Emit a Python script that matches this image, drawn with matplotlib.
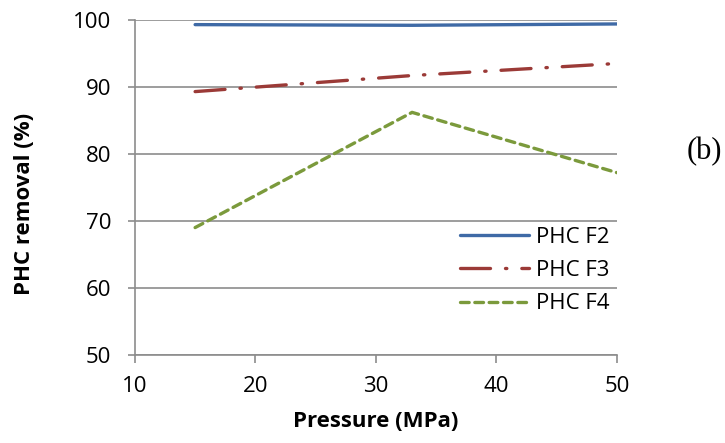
import numpy as np
import matplotlib.pyplot as plt

# data
pressure = [15, 33, 50]
phc_f2 = [99.3, 99.2, 99.4]
phc_f3 = [89.3, 91.7, 93.5]
phc_f4 = [69.0, 86.2, 77.2]

plt.rcParams['font.family'] = ['Open Sans', 'DejaVu Sans']

fig = plt.figure(figsize=(7.25, 4.43), dpi=100)
ax = fig.add_axes([0.186, 0.199, 0.665, 0.756])

grid_c = '#8c8c8c'
ax.plot(pressure, phc_f2, color='#3f6aa6', lw=2.4, solid_capstyle='round', label='PHC F2')
ax.plot(pressure, phc_f3, color='#9b3a37', lw=2.4, dashes=(9, 4.5, 0.4, 4.5),
        dash_capstyle='round', label='PHC F3')
ax.plot(pressure, phc_f4, color='#7b9a3c', lw=2.4, dashes=(2.6, 1.7),
        dash_capstyle='round', label='PHC F4')

ax.set_xlim(10, 50)
ax.set_ylim(50, 100)
ax.set_xticks(np.arange(10, 51, 10))
ax.set_yticks(np.arange(50, 101, 10))
ax.yaxis.grid(True, color=grid_c, lw=1.2)
ax.set_axisbelow(True)

for s in ['top', 'right']:
    ax.spines[s].set_visible(False)
for s in ['left', 'bottom']:
    ax.spines[s].set_color(grid_c)
    ax.spines[s].set_linewidth(1.2)
ax.tick_params(axis='both', colors=grid_c, width=1.2, labelsize=16,
               labelcolor='black')
ax.tick_params(axis='x', length=6, pad=9)
ax.tick_params(axis='y', length=5, pad=12)

ax.set_xlabel('Pressure (MPa)', fontsize=16, fontweight='bold')
ax.set_ylabel('PHC removal (%)', fontsize=16, fontweight='bold')
ax.xaxis.set_label_coords(0.5, -0.2)
ax.xaxis.label.set_va('center')
ax.yaxis.set_label_coords(-0.228, 0.45)
ax.yaxis.label.set_va('center')

leg = ax.legend(loc='upper left', bbox_to_anchor=(460 / 725, 1 - 227 / 443),
                bbox_transform=fig.transFigure, frameon=False, borderpad=0,
                borderaxespad=0, fontsize=16, handlelength=3.1, handletextpad=0.3,
                labelspacing=0.55)

fig.text(704 / 725, 1 - 152 / 443, '(b)', fontsize=22, family='Liberation Serif',
         ha='center', va='center')

fig.savefig('out.png', dpi=100)
